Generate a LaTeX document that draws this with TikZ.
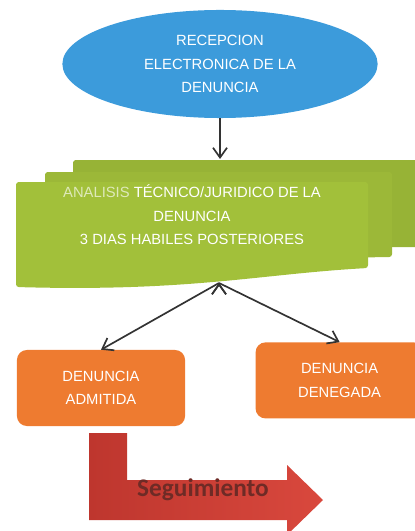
\documentclass[tikz,border=0pt]{standalone}
\usepackage{fontspec}
\setmainfont{Liberation Sans}
\newfontfamily\calibri{Carlito}
\usetikzlibrary{arrows.meta, positioning, shapes.geometric}

\definecolor{azul}{HTML}{3C9BDB}
\definecolor{verde}{HTML}{A2C03A}
\definecolor{naranja}{HTML}{EE7B30}
\definecolor{rojoclaro}{HTML}{D9483D}
\definecolor{rojooscuro}{HTML}{BE362E}
\definecolor{granate}{HTML}{6E2B26}
\definecolor{flechagris}{HTML}{333333}

\begin{document}
\begin{tikzpicture}[x=0.025cm, y=-0.025cm, node distance=1.75cm,
	texto/.style={text=white, align=center, font=\fontsize{10.5}{16.7}\selectfont},
	elipse/.style={ellipse, fill=azul, texto, minimum width=7.88cm, minimum height=2.7cm, inner sep=0pt},
	caja/.style={rectangle, rounded corners=7pt, fill=naranja, texto, minimum width=4.2cm, minimum height=1.9cm},
	hoja/.style={fill=verde, rounded corners=2pt},
	flecha/.style={draw=flechagris, line width=1.2pt, -{Straight Barb[length=7pt, width=10pt]}}]
	\useasboundingbox (0,0) rectangle (414,531);

	% hojas del analisis
	\path[hoja, fill=verde!93!black] (73,160) -- (425,160) -- (425,247) -- (73,247) -- cycle;
	\path[hoja, fill=verde!96!black] (45,172) -- (392,172) -- (392,257) -- (45,262) -- cycle;
	\path[hoja] (16,182) -- (368,182) -- (368,268) .. controls (260,274) and (190,292) .. (16,287) -- cycle;

	\node [elipse]							(recepcion) at (220,64)	{RECEPCION\\ELECTRONICA DE LA\\DENUNCIA};
	\node [texto]							(analisis)  at (192,215)	{\textcolor{verde!35!white}{ANALISIS} T\'ECNICO/JURIDICO DE LA\\DENUNCIA\\3 DIAS HABILES POSTERIORES};
	\coordinate								(anatop)    at (220,159);
	\coordinate								(anabot)    at (219,283);
	\node [caja]							(admitida)  at (101,388)	{DENUNCIA\\ADMITIDA};
	\node [caja, yshift=0.19cm]				(denegada)  [right=of admitida] {DENUNCIA\\DENEGADA};

	% flecha de seguimiento
	\path[left color=rojooscuro, right color=rojoclaro, shading angle=90]
		(89,433) -- (127,433) -- (127,480) -- (287,480) -- (287,465) -- (323,500)
		-- (287,535) -- (287,520) -- (89,520) -- cycle;
	\node [text=granate, font=\calibri\bfseries\fontsize{18}{20}\selectfont] (seguimiento) at (203,490) {Seguimiento};

	\path[flecha] (recepcion) edge (anatop);
	\path[flecha] (anabot) edge (admitida.north);
	\path[flecha] (anabot) edge (denegada.north);
\end{tikzpicture}
\end{document}
